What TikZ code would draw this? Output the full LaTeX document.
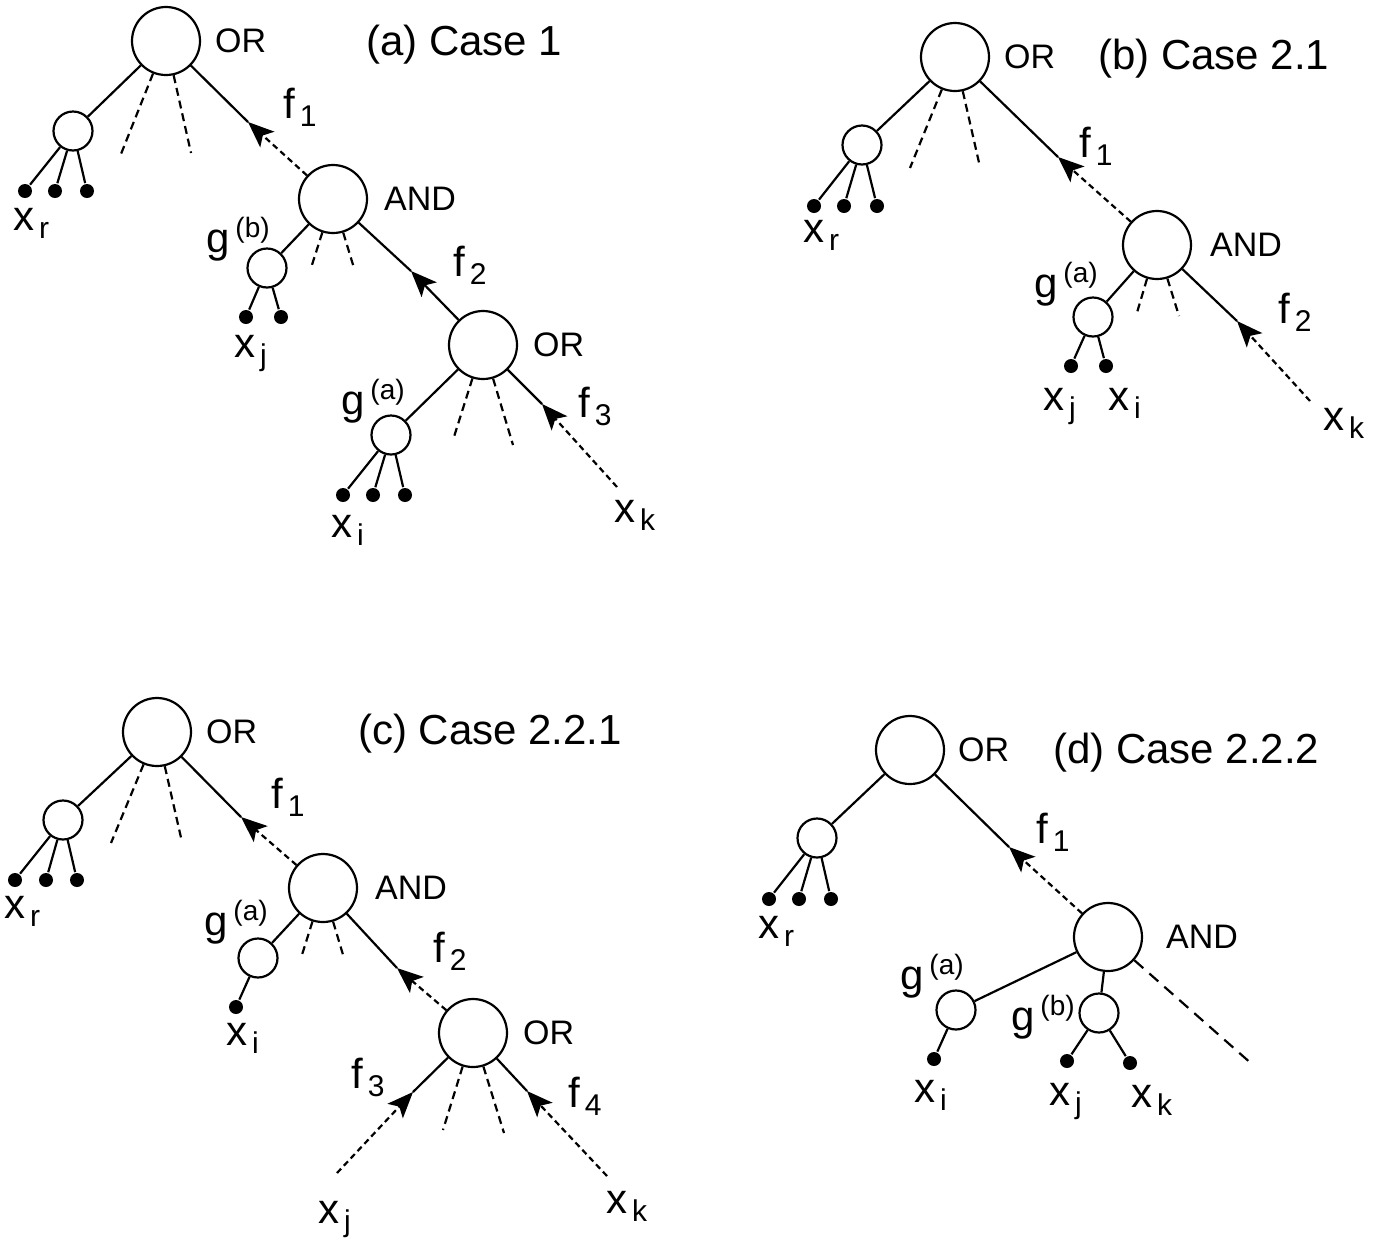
\documentclass[tikz,border=0pt]{standalone}
\usepackage{fontspec}
\setmainfont{Liberation Sans}
\usetikzlibrary{arrows.meta,positioning}

\newcommand{\lo}[1]{\hspace{2.5pt}\raisebox{-4.3pt}{\fontsize{15}{15}\selectfont #1}}
\newcommand{\hi}[1]{\hspace{3pt}\raisebox{7.3pt}{\fontsize{14}{14}\selectfont #1}}

\begin{document}
\begin{tikzpicture}[x=0.5pt,y=-0.5pt,line width=1.1pt,
    gate/.style={circle,draw,minimum size=34pt,inner sep=0},
    var/.style={circle,draw,minimum size=19.5pt,inner sep=0},
    leaf/.style={circle,fill,minimum size=7pt,inner sep=0},
    lbl/.style={inner sep=0,anchor=base west,font=\fontsize{21}{25}\selectfont},
    gatetext/.style={inner sep=0,font=\fontsize{17}{20}\selectfont},
    casetext/.style={inner sep=0,anchor=base west,font=\fontsize{21}{25}\selectfont},
    stub/.style={dash pattern=on 4pt off 2.5pt},
    faint/.style={dash pattern=on 3pt off 2pt},
    toparent/.style={-{Stealth[length=13pt,width=10.5pt,inset=3pt]}}]
    \useasboundingbox (0,0) rectangle (1377,1243);

    % (a)
    \node[gate] (orA) at (166,41) {};
    \node[gatetext,right=6.5pt of orA] (orAt) {OR};
    \node[casetext] (capA) at (365,55) {(a) Case 1};
    \node[var] (rA) at (73,131) {};
    \node[leaf] (rA1) at (25,191) {};
    \node[leaf] (rA2) at (55,191) {};
    \node[leaf] (rA3) at (87,191) {};
    \node[lbl] (xrA) at (12,230) {x\lo{r}};
    \coordinate (sA1) at (121,154);
    \coordinate (sA2) at (191,153);
    \coordinate (tA1) at (248,122);
    \node[lbl] (fA1) at (282,118) {f\lo{1}};
    \node[gate] (andA) at (333,199) {};
    \node[gatetext,right=7.5pt of andA] (andAt) {AND};
    \node[var] (gbA) at (267,268) {};
    \node[lbl] (gbAt) at (205,252) {g\hi{(b)}};
    \node[leaf] (jA1) at (246,317) {};
    \node[leaf] (jA2) at (281,317) {};
    \node[lbl] (xjA) at (233,357) {x\lo{j}};
    \coordinate (sA3) at (311,268);
    \coordinate (sA4) at (354,268);
    \coordinate (tA2) at (411,271);
    \node[lbl] (fA2) at (452,276) {f\lo{2}};
    \node[gate] (or2A) at (483,345) {};
    \node[gatetext,right=7pt of or2A] (or2At) {OR};
    \node[var] (gaA) at (391,435) {};
    \node[lbl] (gaAt) at (340,414) {g\hi{(a)}};
    \node[leaf] (iA1) at (343,495) {};
    \node[leaf] (iA2) at (373,495) {};
    \node[leaf] (iA3) at (405,495) {};
    \node[lbl] (xiA) at (330,537) {x\lo{i}};
    \coordinate (sA5) at (453,440);
    \coordinate (sA6) at (513,445);
    \coordinate (tA3) at (542,404);
    \node[lbl] (fA3) at (577,417) {f\lo{3}};
    \coordinate (kA) at (617,487);
    \node[lbl] (xkA) at (613,522) {x\lo{k}};

    \draw (orA) -- (rA);
    \draw (rA) -- (rA1) (rA) -- (rA2) (rA) -- (rA3);
    \draw[stub] (orA) -- (sA1) (orA) -- (sA2);
    \draw[faint,toparent] (andA) -- (tA1);
    \draw (tA1) -- (orA);
    \draw (andA) -- (gbA);
    \draw (gbA) -- (jA1) (gbA) -- (jA2);
    \draw[stub] (andA) -- (sA3) (andA) -- (sA4);
    \draw[toparent] (or2A) -- (tA2);
    \draw (tA2) -- (andA);
    \draw (or2A) -- (gaA);
    \draw (gaA) -- (iA1) (gaA) -- (iA2) (gaA) -- (iA3);
    \draw[stub] (or2A) -- (sA5) (or2A) -- (sA6);
    \draw[faint,toparent] (kA) -- (tA3);
    \draw (tA3) -- (or2A);

    % (b)
    \node[gate] (orB) at (955,57) {};
    \node[gatetext,right=6.5pt of orB] (orBt) {OR};
    \node[casetext] (capB) at (1097,69) {(b) Case 2.1};
    \node[var] (rB) at (862,145) {};
    \node[leaf] (rB1) at (814,206) {};
    \node[leaf] (rB2) at (844,206) {};
    \node[leaf] (rB3) at (877,206) {};
    \node[lbl] (xrB) at (802,242) {x\lo{r}};
    \coordinate (sB1) at (910,168);
    \coordinate (sB2) at (980,167);
    \coordinate (tB1) at (1058,157);
    \node[lbl] (fB1) at (1078,157) {f\lo{1}};
    \node[gate] (andB) at (1157,245) {};
    \node[gatetext,right=8.5pt of andB] (andBt) {AND};
    \node[var] (gaB) at (1093,317) {};
    \node[lbl] (gaBt) at (1033,297) {g\hi{(a)}};
    \node[leaf] (jB) at (1071,366) {};
    \node[leaf] (iB) at (1106,366) {};
    \node[lbl] (xjB) at (1042,410) {x\lo{j}};
    \node[lbl] (xiB) at (1107,410) {x\lo{i}};
    \coordinate (sB3) at (1136,316);
    \coordinate (sB4) at (1179,316);
    \coordinate (tB2) at (1237,321);
    \node[lbl] (fB2) at (1277,323) {f\lo{2}};
    \coordinate (kB) at (1310,401);
    \node[lbl] (xkB) at (1322,430) {x\lo{k}};

    \draw (orB) -- (rB);
    \draw (rB) -- (rB1) (rB) -- (rB2) (rB) -- (rB3);
    \draw[stub] (orB) -- (sB1) (orB) -- (sB2);
    \draw[faint,toparent] (andB) -- (tB1);
    \draw (tB1) -- (orB);
    \draw (andB) -- (gaB);
    \draw (gaB) -- (jB) (gaB) -- (iB);
    \draw[stub] (andB) -- (sB3) (andB) -- (sB4);
    \draw[faint,toparent] (kB) -- (tB2);
    \draw (tB2) -- (andB);

    % (c)
    \node[gate] (orC) at (157,732) {};
    \node[gatetext,right=6.5pt of orC] (orCt) {OR};
    \node[casetext] (capC) at (357,744) {(c) Case 2.2.1};
    \node[var] (rC) at (63,820) {};
    \node[leaf] (rC1) at (15,880) {};
    \node[leaf] (rC2) at (46,880) {};
    \node[leaf] (rC3) at (77,880) {};
    \node[lbl] (xrC) at (3,918) {x\lo{r}};
    \coordinate (sC1) at (111,843);
    \coordinate (sC2) at (182,842);
    \coordinate (tC1) at (241,817);
    \node[lbl] (fC1) at (270,808) {f\lo{1}};
    \node[gate] (andC) at (323,888) {};
    \node[gatetext,right=8pt of andC] (andCt) {AND};
    \node[var] (gaC) at (258,958) {};
    \node[lbl] (gaCt) at (203,935) {g\hi{(a)}};
    \node[leaf] (iC) at (236,1007) {};
    \node[lbl] (xiC) at (225,1045) {x\lo{i}};
    \coordinate (sC3) at (301,958);
    \coordinate (sC4) at (344,958);
    \coordinate (tC2) at (397,968);
    \node[lbl] (fC2) at (432,962) {f\lo{2}};
    \node[gate] (or2C) at (473,1033) {};
    \node[gatetext,right=7pt of or2C] (or2Ct) {OR};
    \coordinate (tC3) at (413,1092);
    \coordinate (jC) at (337,1173);
    \node[lbl] (fC3) at (350,1088) {f\lo{3}};
    \node[lbl] (xjC) at (317,1223) {x\lo{j}};
    \coordinate (sC5) at (443,1130);
    \coordinate (sC6) at (504,1133);
    \coordinate (tC4) at (527,1091);
    \coordinate (kC) at (607,1176);
    \node[lbl] (fC4) at (567,1107) {f\lo{4}};
    \node[lbl] (xkC) at (605,1213) {x\lo{k}};

    \draw (orC) -- (rC);
    \draw (rC) -- (rC1) (rC) -- (rC2) (rC) -- (rC3);
    \draw[stub] (orC) -- (sC1) (orC) -- (sC2);
    \draw[faint,toparent] (andC) -- (tC1);
    \draw (tC1) -- (orC);
    \draw (andC) -- (gaC);
    \draw (gaC) -- (iC);
    \draw[stub] (andC) -- (sC3) (andC) -- (sC4);
    \draw[faint,toparent] (or2C) -- (tC2);
    \draw (tC2) -- (andC);
    \draw[faint,toparent] (jC) -- (tC3);
    \draw (tC3) -- (or2C);
    \draw[stub] (or2C) -- (sC5) (or2C) -- (sC6);
    \draw[faint,toparent] (kC) -- (tC4);
    \draw (tC4) -- (or2C);

    % (d)
    \node[gate] (orD) at (910,750) {};
    \node[gatetext,right=6pt of orD] (orDt) {OR};
    \node[casetext] (capD) at (1052,763) {(d) Case 2.2.2};
    \node[var] (rD) at (817,838) {};
    \node[leaf] (rD1) at (769,899) {};
    \node[leaf] (rD2) at (799,899) {};
    \node[leaf] (rD3) at (831,899) {};
    \node[lbl] (xrD) at (757,938) {x\lo{r}};
    \coordinate (tD1) at (1009,847);
    \node[lbl] (fD1) at (1035,843) {f\lo{1}};
    \node[gate] (andD) at (1108,937) {};
    \node[gatetext,right=11pt of andD] (andDt) {AND};
    \node[var] (gaD) at (956,1010) {};
    \node[lbl] (gaDt) at (899,989) {g\hi{(a)}};
    \node[var] (gbD) at (1099,1013) {};
    \node[lbl] (gbDt) at (1010,1030) {g\hi{(b)}};
    \coordinate (eD) at (1253,1065);
    \node[leaf] (iD) at (934,1059) {};
    \node[leaf] (jD) at (1067,1061) {};
    \node[leaf] (kD) at (1130,1063) {};
    \node[lbl] (xiD) at (913,1102) {x\lo{i}};
    \node[lbl] (xjD) at (1048,1105) {x\lo{j}};
    \node[lbl] (xkD) at (1130,1107) {x\lo{k}};

    \draw (orD) -- (rD);
    \draw (rD) -- (rD1) (rD) -- (rD2) (rD) -- (rD3);
    \draw[faint,toparent] (andD) -- (tD1);
    \draw (tD1) -- (orD);
    \draw (andD) -- (gaD) (andD) -- (gbD);
    \draw[dash pattern=on 6pt off 4pt] (andD) -- (eD);
    \draw (gaD) -- (iD);
    \draw (gbD) -- (jD) (gbD) -- (kD);
\end{tikzpicture}
\end{document}
